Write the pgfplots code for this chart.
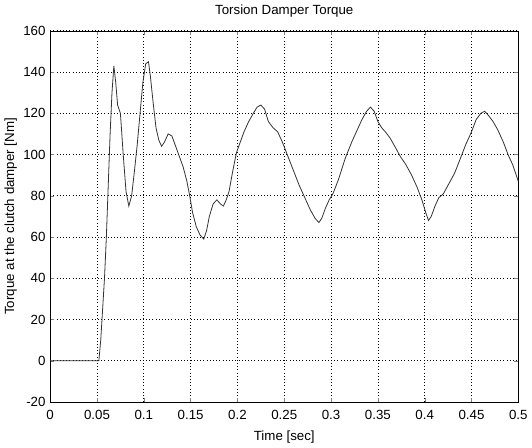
\documentclass[border=0pt]{standalone}
\usepackage{fontspec}
\setmainfont{Liberation Sans}
\usepackage{pgfplots}
\pgfplotsset{compat=1.18}
\begin{document}
\begin{tikzpicture}
\begin{axis}[
    scale only axis,
    width=352pt, height=279pt,
    xmin=0, xmax=0.5, ymin=-20, ymax=160,
    xtick distance=0.05, ytick distance=20,
    xticklabel style={/pgf/number format/fixed, /pgf/number format/precision=2, yshift=-3pt},
    /pgf/number format/assume math mode=true,
    tick align=inside, major tick length=3pt,
    grid=major, grid style={dotted, black, line width=0.5pt},
    axis line style={black, line width=0.4pt},
    title={Torsion Damper Torque},
    xlabel={Time [sec]},
    ylabel={Torque at the clutch damper [Nm]},
    title style={yshift=1pt},
    xlabel style={yshift=-1pt},
    ylabel style={yshift=-2pt},
    ticklabel style={font=\normalsize},
]
\addplot[black!80, line width=0.6pt] coordinates {
(0,0) (0.052,0) (0.054,10) (0.056,25) (0.058,40) (0.060,60) (0.062,85)
(0.064,110) (0.066,130) (0.068,143) (0.070,135) (0.072,124) (0.075,120)
(0.078,100) (0.081,82) (0.084,75) (0.087,80) (0.090,92) (0.093,105)
(0.096,120) (0.099,135) (0.102,144) (0.105,145) (0.107,138) (0.110,125)
(0.113,113) (0.116,107) (0.119,104) (0.122,106) (0.126,110) (0.130,109)
(0.134,104) (0.138,99) (0.142,94) (0.146,87) (0.149,80) (0.152,72)
(0.156,65) (0.160,61) (0.164,59) (0.167,63) (0.170,70) (0.174,76)
(0.178,78) (0.182,76) (0.185,75) (0.188,78) (0.191,82) (0.195,92)
(0.199,101) (0.203,106) (0.207,111) (0.212,116) (0.217,120) (0.221,123)
(0.225,124) (0.229,122) (0.233,116) (0.238,113) (0.243,111) (0.248,106)
(0.254,99) (0.260,92) (0.266,85) (0.272,79) (0.278,73) (0.283,69)
(0.287,67) (0.290,69) (0.294,74) (0.298,78) (0.302,81) (0.308,88)
(0.315,98) (0.322,106) (0.328,112) (0.333,117) (0.338,121) (0.342,123)
(0.346,121) (0.350,116) (0.354,113) (0.358,111) (0.363,108) (0.368,104)
(0.374,99) (0.380,95) (0.386,90) (0.392,84) (0.397,78) (0.401,72)
(0.404,68) (0.407,70) (0.411,75) (0.415,79) (0.420,81) (0.426,86)
(0.432,91) (0.438,98) (0.444,105) (0.450,111) (0.455,117) (0.460,120)
(0.464,121) (0.468,119) (0.473,116) (0.478,112) (0.484,106) (0.489,100)
(0.494,95) (0.500,87)
};
\end{axis}
\end{tikzpicture}
\end{document}
